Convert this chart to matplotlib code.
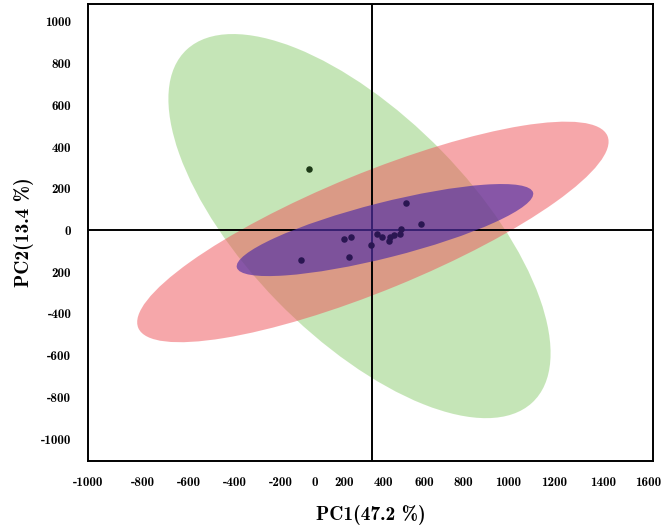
import numpy as np
import matplotlib.pyplot as plt
from matplotlib.patches import Ellipse

# group scores (PC1, PC2)
green_x = [8]
green_y = [295]
blue_x = [454, 523, 433, 428, 398, 382, 379, 344, 319, 293, 200, 168, 193, -29]
blue_y = [133, 33, 7, -18, -23, -33, -49, -33, -17, -70, -30, -42, -129, -143]

# confidence ellipses: center, width, height, angle
ell_cx = [240, 302, 358]
ell_cy = [21, -7, 2]
ell_w = [2330, 2361, 1419]
ell_h = [1049, 562, 264]
ell_ang = [-46.7, 23.0, 14.7]
ell_col = ['#8dcd71', '#ef5157', '#5230a6']
ell_alpha = [0.5, 0.5, 0.68]

xtick_pos = [-1018, -765, -549, -337, -126, 31, 169, 353, 542, 721, 928, 1140, 1370, 1577]
xtick_labels = ['-1000', '-800', '-600', '-400', '-200', '0', '200', '400',
                '600', '800', '1000', '1200', '1400', '1600']
ytick_pos = [1000, 800, 600, 400, 200, 0, -200, -400, -600, -800, -1000]
ytick_labels = ['1000', '800', '600', '400', '200', '0', '200', '-400', '-600', '-800', '-1000']

fam = ['cmb10', 'DejaVu Serif']

fig = plt.figure(figsize=(6.65, 5.26), dpi=100)
ax = fig.add_axes([88 / 665, 1 - 460.7 / 526, 565 / 665, 456.7 / 526])

for i in range(3):
    e = Ellipse((ell_cx[i], ell_cy[i]), ell_w[i], ell_h[i], angle=ell_ang[i],
                facecolor=ell_col[i], alpha=ell_alpha[i], edgecolor='none', zorder=1 + i)
    ax.add_patch(e)

ax.axhline(0, color='black', lw=1.4, zorder=2.5)
ax.axvline(300, color='black', lw=1.4, zorder=2.5)

ax.scatter(green_x, green_y, s=22, color='#1d3a17', zorder=5, linewidths=0)
ax.scatter(blue_x, blue_y, s=22, color='#2a1652', zorder=5, linewidths=0)

ax.set_xlim(-1000, 1600)
ax.set_ylim(-1104, 1086)

ax.set_xticks(xtick_pos)
ax.set_xticklabels(xtick_labels, family=fam, fontsize=9.5, fontweight='bold')
ax.set_yticks(ytick_pos)
ax.set_yticklabels(ytick_labels, family=fam, fontsize=9.5, fontweight='bold')
ax.tick_params(length=0, pad=12)

for s in ax.spines.values():
    s.set_linewidth(1.4)

ax.set_xlabel('PC1(47.2 %)', family=fam, fontsize=14, fontweight='bold', labelpad=11)
ax.set_ylabel('PC2(13.4 %)', family=fam, fontsize=14, fontweight='bold', labelpad=5)

fig.savefig('out.png', dpi=100)
